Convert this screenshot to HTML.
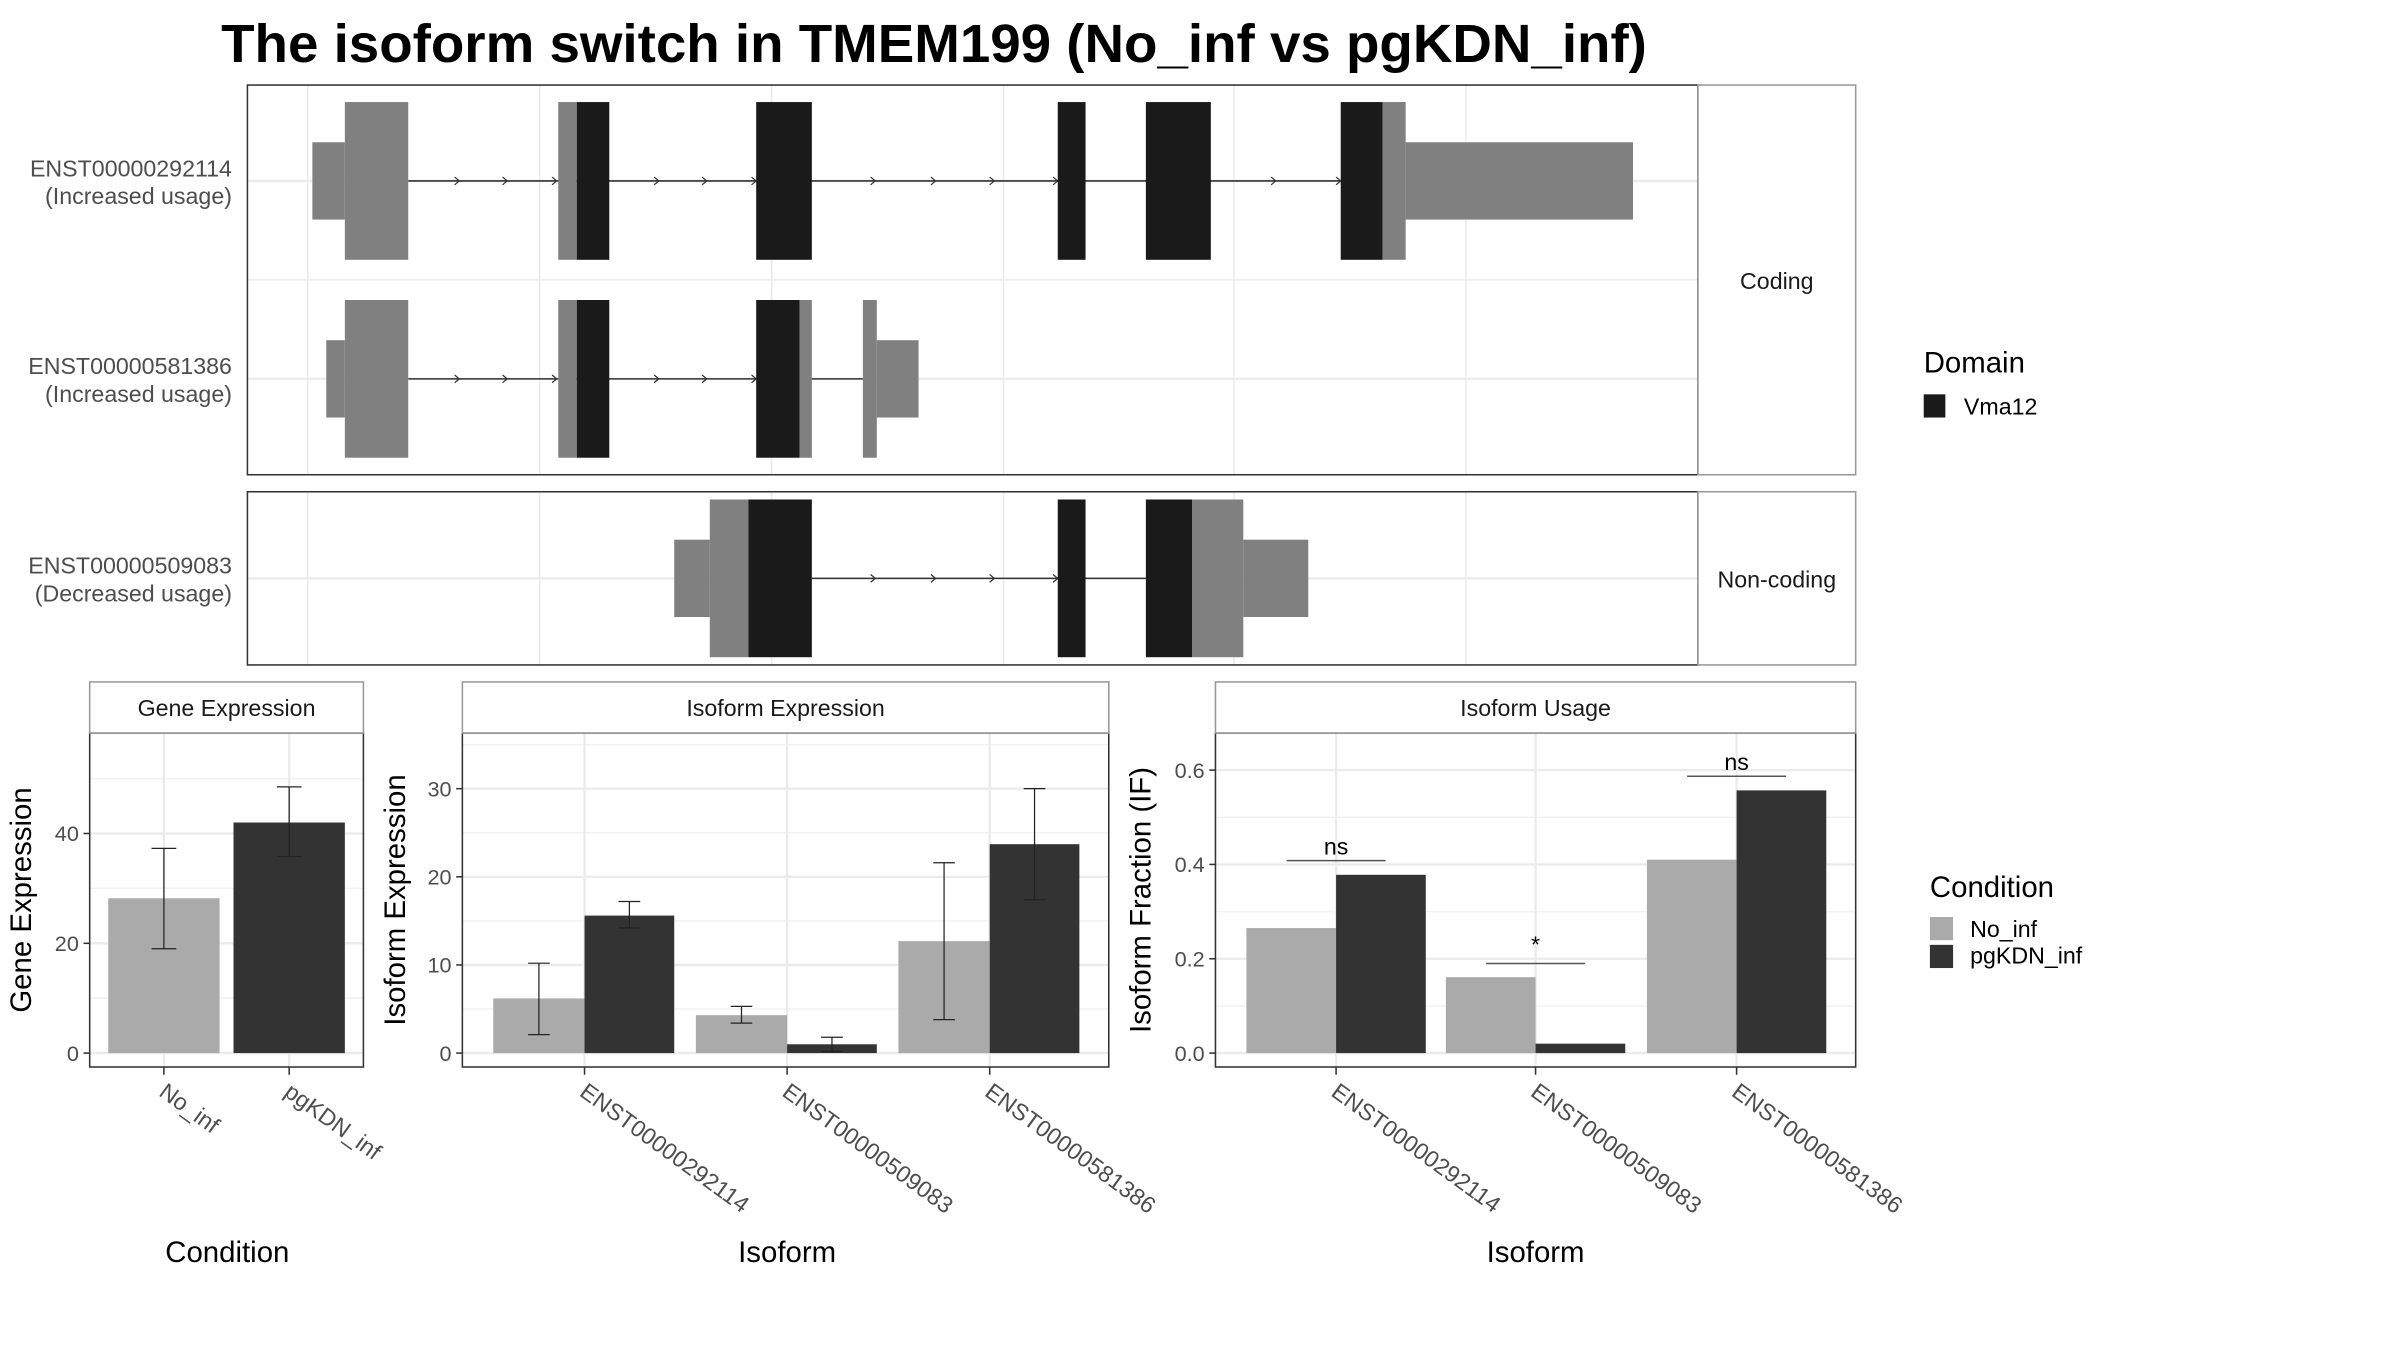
<!DOCTYPE html>
<html><head><meta charset="utf-8"><style>
html,body{margin:0;padding:0;background:#fff;}
svg{display:block;font-family:"Liberation Sans",Arial,sans-serif;}
</style></head><body>
<svg id="fig" width="2400" height="1350" viewBox="0 0 1552 873" xmlns="http://www.w3.org/2000/svg">
<rect width="1552" height="873" fill="#fff"/>
<text x="143" y="40" font-size="35" font-weight="bold" textLength="922" lengthAdjust="spacingAndGlyphs">The isoform switch in TMEM199 (No_inf vs pgKDN_inf)</text>
<g id="g"></g>
</svg>
<script>
// ---------- Data ----------
// transcript structure (genomic coords in plot units; x-scale maps 0..6 -> grid lines)
const transcriptNames = ["ENST00000292114","ENST00000581386","ENST00000509083"];
const transcriptLabels = ["(Increased usage)","(Increased usage)","(Decreased usage)"];
// segments: [start, end, type] type: 'utr' short grey, 'cds' tall grey, 'dom' tall black
const tx1Segments = [[202,223,'utr'],[223,264,'cds'],[361,373,'cds'],[373,394,'dom'],[489,525,'dom'],[684,702,'dom'],[741,783,'dom'],[867,894,'dom'],[894,909,'cds'],[909,1056,'utr']];
const tx2Segments = [[211,223,'utr'],[223,264,'cds'],[361,373,'cds'],[373,394,'dom'],[489,517,'dom'],[517,525,'cds'],[558,567,'cds'],[567,594,'utr']];
const tx3Segments = [[436,459,'utr'],[459,484,'cds'],[484,525,'dom'],[684,702,'dom'],[741,771,'dom'],[771,804,'cds'],[804,846,'utr']];
const tx1Introns = [[264,867]]; const tx2Introns=[[264,558]]; const tx3Introns=[[525,741]];
const tx1Arrows = [297,328,360,426,457,489,566,605,643,684,825,867];
const tx2Arrows = [297,328,360,426,457,489];
const tx3Arrows = [566,605,643,684];

const conditions = ["No_inf","pgKDN_inf"];
const geneExpr = [28.2, 42.0];
const geneLo = [19.0, 35.8];
const geneHi = [37.3, 48.5];
const geneTicks = [0,20,40];

const isoforms = ["ENST00000292114","ENST00000509083","ENST00000581386"];
const isoExprNo = [6.2, 4.3, 12.7];
const isoExprPg = [15.6, 1.0, 23.7];
const isoExprNoLo = [2.1, 3.4, 3.8];
const isoExprNoHi = [10.2, 5.3, 21.6];
const isoExprPgLo = [14.2, 0.2, 17.4];
const isoExprPgHi = [17.2, 1.8, 30.0];
const isoExprTicks = [0,10,20,30];

const ifNo = [0.265, 0.161, 0.41];
const ifPg = [0.378, 0.02, 0.557];
const sigLabels = ["ns","*","ns"];
const sigLevel = [0.408, 0.19, 0.587];
const ifTicks = [0.0,0.2,0.4,0.6];
const ifTickLabels = ["0.0","0.2","0.4","0.6"];

// ---------- helpers ----------
const NS="http://www.w3.org/2000/svg";
const root=document.getElementById('g');
function el(tag,attrs,parent,text){const e=document.createElementNS(NS,tag);for(const k in attrs)e.setAttribute(k,attrs[k]);if(text!==undefined)e.textContent=text;(parent||root).appendChild(e);return e;}
const GRID="#ebebeb", BORDER="#333333", TICKC="#4d4d4d";

// ---------- transcript panels ----------
function txPanel(x0,y0,x1,y1,strip,name){
  const g=el('g',{});
  
  
  [199,349,499,649,798,948].forEach(x=>el('line',{x1:x,x2:x,y1:y0,y2:y1,stroke:GRID,'stroke-width':1},g));
  return g;
}
function drawTx(g,y,segs,introns,arrows,nameIdx){
  el('line',{x1:160,x2:1098,y1:y,y2:y,stroke:GRID,'stroke-width':1.5},g);
  introns.forEach(i=>el('line',{x1:i[0],x2:i[1],y1:y,y2:y,stroke:'#333','stroke-width':1},g));
  arrows.forEach(a=>{const p=el('path',{d:`M${a-3},${y-2.5} L${a},${y} L${a-3},${y+2.5}`,fill:'none',stroke:'#333','stroke-width':0.8},g);});
  segs.forEach(s=>{
    const h=s[2]==='utr'?25:51;
    const r=el('rect',{x:s[0],y:y-h,width:s[1]-s[0],height:2*h,fill:s[2]==='dom'?'#1a1a1a':'#808080'},g);
    
    
  });
  const t1=el('text',{x:150,y:y-3,'text-anchor':'end','font-size':15,fill:TICKC},root,transcriptNames[nameIdx]);
  
  
  const t2=el('text',{x:150,y:y+15,'text-anchor':'end','font-size':15,fill:TICKC},root,transcriptLabels[nameIdx]);
  
  
}
let p1=txPanel(160,55,1098,307,'Coding','coding-panel');
el('line',{x1:160,x2:1098,y1:181,y2:181,stroke:GRID,'stroke-width':1},p1);
drawTx(p1,117,tx1Segments,tx1Introns,tx1Arrows,0);
drawTx(p1,245,tx2Segments,tx2Introns,tx2Arrows,1);
el('rect',{x:160,y:55,width:938,height:252,fill:'none',stroke:BORDER,'stroke-width':1},p1);
el('rect',{x:1098,y:55,width:102,height:252,fill:'#fff',stroke:'#999','stroke-width':1},p1);
let s1=el('text',{x:1149,y:187,'text-anchor':'middle','font-size':15,fill:'#1a1a1a'},p1,'Coding');



let p2=txPanel(160,318,1098,430,'Non-coding','noncoding-panel');
drawTx(p2,374,tx3Segments,tx3Introns,tx3Arrows,2);
el('rect',{x:160,y:318,width:938,height:112,fill:'none',stroke:BORDER,'stroke-width':1},p2);
el('rect',{x:1098,y:318,width:102,height:112,fill:'#fff',stroke:'#999','stroke-width':1},p2);
let s2=el('text',{x:1149,y:380,'text-anchor':'middle','font-size':15,fill:'#1a1a1a'},p2,'Non-coding');



// Domain legend
let dl=el('text',{x:1244,y:241,'font-size':19},root,'Domain');


let dk=el('rect',{x:1244,y:255,width:14,height:15,fill:'#1a1a1a'});


let dt=el('text',{x:1270,y:268,'font-size':15},root,'Vma12');



// ---------- bar panels ----------
function barPanel(o){
  const g=el('g',{});
  
  
  const y=v=>o.y0-(v-o.vmin)/(o.vmax-o.vmin)*(o.y0-o.y1);
  // grid minor + major
  o.minor.forEach(v=>el('line',{x1:o.x0,x2:o.x1,y1:y(v),y2:y(v),stroke:'#f2f2f2','stroke-width':1},g));
  o.ticks.forEach(v=>el('line',{x1:o.x0,x2:o.x1,y1:y(v),y2:y(v),stroke:GRID,'stroke-width':1.5},g));
  o.cx.forEach(c=>el('line',{x1:c,x2:c,y1:o.pt,y2:o.pb,stroke:GRID,'stroke-width':1.5},g));
  return {g,y};
}
function strip(x0,x1,label,name){
  el('rect',{x:x0,y:441,width:x1-x0,height:33,fill:'#fff',stroke:'#999','stroke-width':1});
  const t=el('text',{x:(x0+x1)/2,y:463,'text-anchor':'middle','font-size':15,fill:'#1a1a1a'},root,label);
  
  
}
function yTicks(g,y,ticks,labels,xAxis){
  ticks.forEach((v,i)=>{
    el('line',{x1:xAxis-4,x2:xAxis,y1:y(v),y2:y(v),stroke:'#333','stroke-width':1},g);
    const t=el('text',{x:xAxis-7,y:y(v)+5,'text-anchor':'end','font-size':14,fill:TICKC},g,labels[i]);
    
    
  });
}
function xTicks(g,cx,labels,yAxis){
  cx.forEach((c,i)=>{
    el('line',{x1:c,x2:c,y1:yAxis,y2:yAxis+5,stroke:'#333','stroke-width':1},g);
    const t=el('text',{x:c-4,y:yAxis+18,'font-size':15,fill:TICKC,transform:`rotate(36 ${c-4} ${yAxis+18})`},g,labels[i]);
    
    
  });
}
function errBar(g,x,lo,hi,y,w){
  const e=el('path',{d:`M${x-w},${y(hi)} H${x+w} M${x},${y(hi)} V${y(lo)} M${x-w},${y(lo)} H${x+w}`,stroke:'#222','stroke-width':0.8,fill:'none'},g);
  
  
}
function bar(g,x0,x1,v,y,fill,name){
  const r=el('rect',{x:x0,y:y(v),width:x1-x0,height:y(0)-y(v),fill},g);
  
  
}
function title(x,y,label,rot,name){
  const t=el('text',{x,y,'text-anchor':'middle','font-size':19,transform:rot?`rotate(-90 ${x} ${y})`:''},root,label);
  
  
}

// Gene expression
{
  const cx=[106,187];
  const P=barPanel({name:'gene-expression-panel',x0:58,x1:235,pt:474,pb:690,y0:681,y1:610,vmin:0,vmax:20,ticks:geneTicks,minor:[10,30,50],cx});
  conditions.forEach((c,i)=>{bar(P.g,cx[i]-36,cx[i]+36,geneExpr[i],P.y,i?'#333333':'#aaaaaa','gene-bar-'+c);errBar(P.g,cx[i],geneLo[i],geneHi[i],P.y,8);});
  el('rect',{x:58,y:474,width:177,height:216,fill:'none',stroke:BORDER,'stroke-width':1},P.g);
  yTicks(P.g,P.y,geneTicks,geneTicks.map(String),58);
  xTicks(P.g,cx,conditions,690);
  strip(58,235,'Gene Expression','gene-expression-strip');
  title(20,582,'Gene Expression',true,'gene-y-axis-title');
  title(147,816,'Condition',false,'gene-x-axis-title');
}
// Isoform expression
{
  const cx=[378,509,640];
  const P=barPanel({name:'isoform-expression-panel',x0:299,x1:717,pt:474,pb:690,y0:681,y1:624,vmin:0,vmax:10,ticks:isoExprTicks,minor:[5,15,25,35],cx});
  isoforms.forEach((c,i)=>{
    bar(P.g,cx[i]-59,cx[i],isoExprNo[i],P.y,'#aaaaaa','iso-expr-bar-no-inf-'+c);
    bar(P.g,cx[i],cx[i]+58,isoExprPg[i],P.y,'#333333','iso-expr-bar-pgkdn-'+c);
    errBar(P.g,cx[i]-29.5,isoExprNoLo[i],isoExprNoHi[i],P.y,7);
    errBar(P.g,cx[i]+29,isoExprPgLo[i],isoExprPgHi[i],P.y,7);
  });
  el('rect',{x:299,y:474,width:418,height:216,fill:'none',stroke:BORDER,'stroke-width':1},P.g);
  yTicks(P.g,P.y,isoExprTicks,isoExprTicks.map(String),299);
  xTicks(P.g,cx,isoforms,690);
  strip(299,717,'Isoform Expression','isoform-expression-strip');
  title(262,582,'Isoform Expression',true,'iso-expr-y-axis-title');
  title(509,816,'Isoform',false,'iso-expr-x-axis-title');
}
// Isoform usage
{
  const cx=[864,993,1123];
  const P=barPanel({name:'isoform-usage-panel',x0:786,x1:1200,pt:474,pb:690,y0:681,y1:620,vmin:0,vmax:0.2,ticks:ifTicks,minor:[0.1,0.3,0.5],cx});
  isoforms.forEach((c,i)=>{
    bar(P.g,cx[i]-58,cx[i],ifNo[i],P.y,'#aaaaaa','if-bar-no-inf-'+c);
    bar(P.g,cx[i],cx[i]+58,ifPg[i],P.y,'#333333','if-bar-pgkdn-'+c);
    const l=el('line',{x1:cx[i]-32,x2:cx[i]+32,y1:P.y(sigLevel[i]),y2:P.y(sigLevel[i]),stroke:'#555','stroke-width':1},P.g);
    
    
    const t=el('text',{x:cx[i],y:P.y(sigLevel[i])-(sigLabels[i]==='*'?7:4),'text-anchor':'middle','font-size':15},P.g,sigLabels[i]);
    
    
  });
  el('rect',{x:786,y:474,width:414,height:216,fill:'none',stroke:BORDER,'stroke-width':1},P.g);
  yTicks(P.g,P.y,ifTicks,ifTickLabels,786);
  xTicks(P.g,cx,isoforms,690);
  strip(786,1200,'Isoform Usage','isoform-usage-strip');
  title(744,582,'Isoform Fraction (IF)',true,'if-y-axis-title');
  title(993,816,'Isoform',false,'if-x-axis-title');
}
// Condition legend
{
  const t=el('text',{x:1248,y:580,'font-size':19},root,'Condition');
  
  
  const cols=['#aaaaaa','#333333'];
  conditions.forEach((c,i)=>{
    const k=el('rect',{x:1248,y:593+i*18,width:15,height:15,fill:cols[i]});
    
    
    const l=el('text',{x:1274,y:606+i*17,'font-size':15},root,c);
    
    
  });
}
</script>
</body></html>
